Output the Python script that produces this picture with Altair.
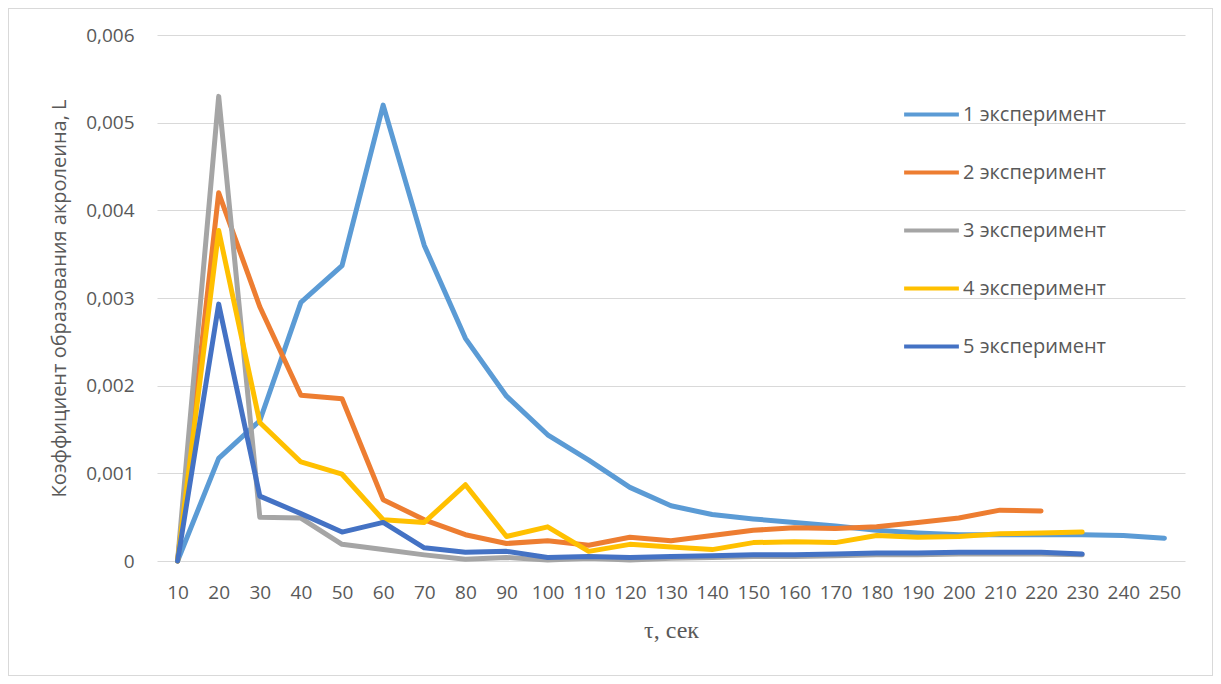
import altair as alt
import pandas as pd

taus = [10, 20, 30, 40, 50, 60, 70, 80, 90, 100, 110, 120, 130, 140, 150,
        160, 170, 180, 190, 200, 210, 220, 230, 240, 250]

series_names = ["1 эксперимент", "2 эксперимент", "3 эксперимент",
                "4 эксперимент", "5 эксперимент"]
series_colors = ["#5B9BD5", "#ED7D31", "#A5A5A5", "#FFC000", "#4472C4"]

s1 = [0, 0.00117, 0.0016, 0.00295, 0.00337, 0.0052, 0.0036, 0.00254, 0.00188,
      0.00144, 0.00115, 0.00084, 0.00063, 0.00053, 0.00048, 0.00044, 0.0004,
      0.00035, 0.00032, 0.0003, 0.0003, 0.0003, 0.0003, 0.00029, 0.00026]
s2 = [0, 0.0042, 0.0029, 0.00189, 0.00185, 0.0007, 0.00047, 0.0003, 0.0002,
      0.00023, 0.00018, 0.00027, 0.00023, 0.00029, 0.00035, 0.00038, 0.00037,
      0.00039, 0.00044, 0.00049, 0.00058, 0.00057]
s3 = [0, 0.0053, 0.0005, 0.00049, 0.00019, 0.00013, 0.00007, 0.00002, 0.00004,
      0.00001, 0.00003, 0.00001, 0.00003, 0.00004, 0.00005, 0.00005, 0.00006,
      0.00007, 0.00007, 0.00008, 0.00008, 0.00008, 0.00007]
s4 = [0, 0.00377, 0.00158, 0.00113, 0.00099, 0.00047, 0.00044, 0.00087,
      0.00028, 0.00039, 0.00011, 0.00019, 0.00016, 0.00013, 0.00021, 0.00022,
      0.00021, 0.00029, 0.00027, 0.00028, 0.00031, 0.00032, 0.00033]
s5 = [0, 0.00293, 0.00074, 0.00054, 0.00033, 0.00044, 0.00015, 0.0001,
      0.00011, 0.00004, 0.00005, 0.00004, 0.00005, 0.00006, 0.00007, 0.00007,
      0.00008, 0.00009, 0.00009, 0.0001, 0.0001, 0.0001, 0.00008]

rows = []
for order, (name, vals) in enumerate(zip(series_names, [s1, s2, s3, s4, s5])):
    for t, v in zip(taus, vals):
        rows.append({"tau": str(t), "value": v, "series": name, "ord": order})
df = pd.DataFrame(rows)

W, H = 1028, 526
FONT = "Open Sans"
GREY = "#595959"

lines = alt.Chart(df).mark_line(strokeWidth=5, strokeCap="round",
                                strokeJoin="round").encode(
    x=alt.X("tau:O", sort=[str(t) for t in taus],
            scale=alt.Scale(type="point", padding=0.5),
            axis=alt.Axis(title="τ, сек", labelAngle=0, ticks=False,
                          domain=False, grid=False, labelPadding=22,
                          titleFont="Liberation Serif", titleFontSize=24,
                          titleFontWeight="normal", titleColor=GREY,
                          titlePadding=16)),
    y=alt.Y("value:Q", scale=alt.Scale(domain=[0, 0.006], nice=False),
            axis=alt.Axis(title="Коэффициент образования акролеина, L",
                          values=[0, 0.001, 0.002, 0.003, 0.004, 0.005, 0.006],
                          labelExpr="replace(format(datum.value, ''), '.', ',')",
                          ticks=False, domain=False, labelPadding=23,
                          gridColor="#D9D9D9", gridWidth=1,
                          titleFontWeight="normal", titleFontSize=20,
                          titleColor=GREY, titlePadding=16)),
    color=alt.Color("series:N",
                    scale=alt.Scale(domain=series_names, range=series_colors),
                    legend=alt.Legend(title=None, orient="none",
                                      legendX=745, legendY=50,
                                      symbolType="stroke", symbolSize=3000,
                                      symbolStrokeWidth=4, labelFontSize=20,
                                      labelColor=GREY, labelFont=FONT,
                                      labelOffset=2, rowPadding=18,
                                      padding=0)),
    order=alt.Order("ord:Q"),
    detail="series:N",
)

border = alt.Chart(df).mark_rect(fill=None, stroke="#D9D9D9", strokeWidth=1,
                                 clip=False).encode(
    x=alt.value(-148.5), x2=alt.value(W + 27.5),
    y=alt.value(-26.5), y2=alt.value(H + 114.5),
)

chart = alt.layer(border, lines).properties(
    width=W, height=H,
    autosize=alt.AutoSizeParams(type="none"),
    padding={"left": 149, "top": 27, "right": 28, "bottom": 115},
).configure_view(stroke=None).configure_axis(
    labelFont=FONT, labelFontSize=19, labelColor=GREY, titleFont=FONT
)

chart.save("out.html", embed_options={"renderer": "svg", "actions": False})
